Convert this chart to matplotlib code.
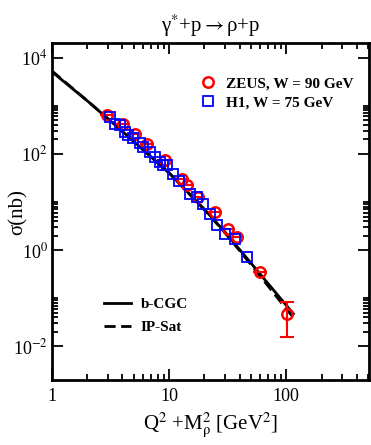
import numpy as np
import matplotlib
matplotlib.use("Agg")
import matplotlib.pyplot as plt
from matplotlib.ticker import FixedLocator, NullFormatter, FixedFormatter

plt.rcParams['font.family'] = ['Liberation Serif', 'DejaVu Serif']
plt.rcParams['mathtext.fontset'] = 'stix'

# ZEUS, W = 90 GeV
zeus_x = [2.93, 4.07, 5.12, 6.45, 9.25, 12.8, 14.2, 17.8, 24.7, 32.1, 37.9, 60.0, 102.0]
zeus_y = [637, 428, 265, 157, 74.3, 30.5, 22.2, 12.7, 6.2, 2.8, 1.88, 0.354, 0.048]
zeus_err_lo = [0, 0, 0, 0, 0, 0, 0, 0, 0, 0, 0, 0, 0.032]
zeus_err_hi = [0, 0, 0, 0, 0, 0, 0, 0, 0, 0, 0, 0, 0.0365]

# H1, W = 75 GeV
h1_x = [3.13, 3.45, 3.81, 4.21, 4.49, 4.95, 5.65, 6.03, 6.88, 7.59, 8.38, 8.94, 9.55,
        10.9, 12.2, 15.1, 17.3, 19.6, 22.4, 25.6, 30.1, 36.7, 46.1]
h1_y = [589, 428, 395, 288, 245, 209, 165, 141, 111, 87.3, 68.7, 58.5, 57.7,
        38.8, 28.0, 14.9, 12.7, 9.25, 5.74, 3.29, 2.21, 1.74, 0.72]

# model curves
model_x = [1, 2, 3, 5, 10, 20, 30, 50, 70, 100, 115]
bcgc_y = [5100, 1270, 540, 182, 40.5, 7.05, 2.38, 0.537, 0.202, 0.0714, 0.0475]
ipsat_y = [5300, 1280, 540, 180, 40.0, 6.9, 2.3, 0.50, 0.18, 0.060, 0.040]

fig = plt.figure(figsize=(3.71, 4.45), dpi=100)
ax = fig.add_axes([0.140, 0.146, 0.855, 0.757])

l1, = ax.plot(model_x, bcgc_y, color='black', lw=2.0, label='b-CGC')
l2, = ax.plot(model_x, ipsat_y, color='black', lw=2.0, ls=(0, (4, 2)), label='IP-Sat')

ax.errorbar(zeus_x, zeus_y, yerr=[zeus_err_lo, zeus_err_hi], fmt='none',
            ecolor='red', elinewidth=1.5, capsize=5, capthick=1.5, zorder=3)
p1, = ax.plot(zeus_x, zeus_y, 'o', ms=7.5, mfc='none', mec='red', mew=1.8,
              label='ZEUS, W = 90 GeV', zorder=3)
p2, = ax.plot(h1_x, h1_y, 's', ms=6.5, mfc='none', mec='blue', mew=1.3,
              label='H1, W = 75 GeV', zorder=4)

ax.set_xscale('log')
ax.set_yscale('log')
ax.set_xlim(1, 510)
ax.set_ylim(2e-3, 2e4)

# ticks
ax.xaxis.set_major_locator(FixedLocator([1, 10, 100]))
ax.xaxis.set_major_formatter(FixedFormatter(['1', '10', '100']))
xminor = [m * 10 ** d for d in range(0, 3) for m in range(2, 10)]
ax.xaxis.set_minor_locator(FixedLocator(xminor))
ax.xaxis.set_minor_formatter(NullFormatter())

ax.yaxis.set_major_locator(FixedLocator([1e-2, 1, 1e2, 1e4]))
ax.yaxis.set_major_formatter(FixedFormatter(['10$^{-2}$', '10$^{0}$', '10$^{2}$', '10$^{4}$']))
yminor = [m * 10.0 ** d for d in (-2, 0, 2) for m in range(2, 11)]
ax.yaxis.set_minor_locator(FixedLocator(yminor))
ax.yaxis.set_minor_formatter(NullFormatter())

ax.tick_params(which='both', direction='in', top=True, right=True, width=1.3)
ax.tick_params(which='major', length=8, labelsize=13)
ax.tick_params(axis='y', which='major', pad=3)
ax.tick_params(axis='x', which='major', pad=6)
ax.tick_params(which='minor', length=4)
for s in ax.spines.values():
    s.set_linewidth(2)

ax.set_title('γ$^{*}$+p$\\rightarrow$ρ+p', fontsize=15, pad=8)
ax.set_ylabel('σ(nb)', fontsize=15)
ax.yaxis.set_label_coords(-0.075, 0.5)
ax.set_xlabel('Q$^2$ +M$^{2}_{\\mathrm{\\rho}}$ [GeV$^2$]', fontsize=15, labelpad=4)

leg1 = ax.legend(handles=[p1, p2], loc='upper right', bbox_to_anchor=(0.995, 0.94),
                 frameon=False, prop={'weight': 'bold', 'size': 11},
                 handletextpad=0.6, handlelength=1.2, labelspacing=0.3)
ax.add_artist(leg1)
ax.legend(handles=[l1, l2], loc='lower left', bbox_to_anchor=(0.12, 0.095),
          frameon=False, prop={'weight': 'bold', 'size': 11},
          handlelength=1.8, handletextpad=0.6, labelspacing=0.6)

fig.savefig('out.png', dpi=100)
